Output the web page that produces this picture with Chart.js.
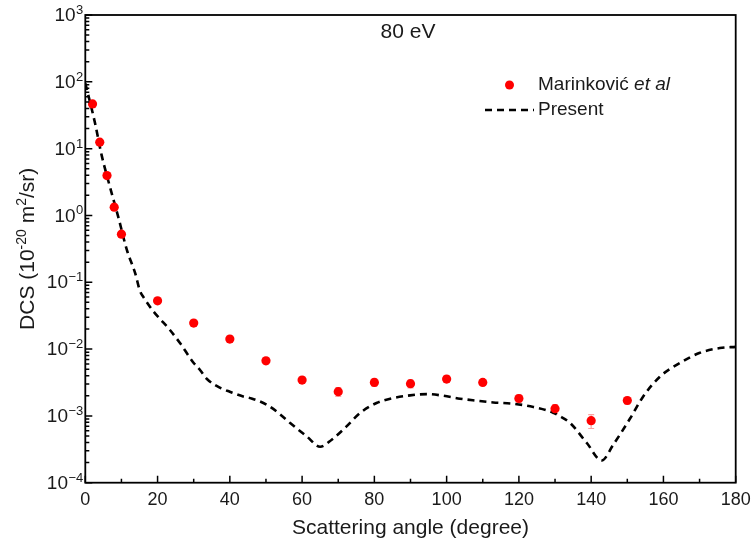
<!DOCTYPE html>
<html>
<head>
<meta charset="utf-8">
<script src="https://cdn.jsdelivr.net/npm/chart.js@4"></script>
<style>
  html, body { margin: 0; padding: 0; background: #ffffff; }
  #wrap { width: 752px; height: 547px; }
</style>
</head>
<body>
<div id="wrap"><canvas id="c" width="752" height="547"></canvas></div>
<script>
// ---- Data ----
const expAngles = [2, 4, 6, 8, 10, 20, 30, 40, 50, 60, 70, 80, 90, 100, 110, 120, 130, 140, 150];
const expDCS = [46.7, 12.5, 3.95, 1.33, 0.525, 0.0527, 0.0245, 0.0141, 0.00668, 0.00343, 0.0023, 0.00317, 0.00303, 0.00356, 0.00317, 0.00182, 0.00128, 0.000847, 0.0017];
const expErr = [4.5, 1.2, 0.4, 0.13, 0.05, 0.005, 0.0024, 0.0014, 0.0007, 0.00035, 0.00035, 0.0004, 0.0004, 0.0004, 0.0003, 0.00025, 0.0002, 0.0002, 0.0002];

const theoryAngles = [0, 1, 2.7, 4.5, 6.8, 9.1, 11.5, 13.8, 15.1, 16.1, 18.8, 20.5, 23.2, 26.2, 30, 31.7, 33.6, 37.5, 40, 43.7, 46, 50.2, 53.5, 56.7, 61.3, 65, 68.2, 72.3, 76, 80.6, 85.2, 89.9, 94.5, 99.1, 103.7, 108.3, 112.9, 118.5, 124, 128.6, 131.5, 134.2, 138.8, 142.9, 146.1, 150.8, 154.4, 159.1, 164.6, 170.1, 175.6, 180];
const theoryDCS = [95, 58, 24, 8.06, 2.7, 0.96, 0.305, 0.137, 0.075, 0.060, 0.037, 0.029, 0.020, 0.0123, 0.0062, 0.0049, 0.0036, 0.0026, 0.0023, 0.00195, 0.00182, 0.00147, 0.0011, 0.00078, 0.000493, 0.000345, 0.00044, 0.000697, 0.0011, 0.00156, 0.00185, 0.00203, 0.00212, 0.0020, 0.00181, 0.00169, 0.00159, 0.00152, 0.00136, 0.00117, 0.00098, 0.00078, 0.000393, 0.000215, 0.00037, 0.00092, 0.00195, 0.0039, 0.0062, 0.0088, 0.01035, 0.0108];

const xTicks = [0, 20, 40, 60, 80, 100, 120, 140, 160, 180];
const yExponents = [-4, -3, -2, -1, 0, 1, 2, 3];

const FONT = '"Liberation Sans", Arial, sans-serif';
const TXT = '#1a1a1a';

const axesPlugin = {
  id: 'axesPlugin',
  beforeDatasetsDraw(chart) {
    // error bars
    const ctx = chart.ctx;
    const xs = chart.scales.x, ys = chart.scales.y;
    ctx.save();
    ctx.strokeStyle = 'rgba(250,90,90,0.55)';
    ctx.lineWidth = 1.2;
    for (let i = 0; i < expAngles.length; i++) {
      const px = xs.getPixelForValue(expAngles[i]);
      const pTop = ys.getPixelForValue(expDCS[i] + expErr[i]);
      const pBot = ys.getPixelForValue(Math.max(expDCS[i] - expErr[i], 1e-6));
      ctx.beginPath();
      ctx.moveTo(px, pTop); ctx.lineTo(px, pBot);
      ctx.moveTo(px - 3, pTop); ctx.lineTo(px + 3, pTop);
      ctx.moveTo(px - 3, pBot); ctx.lineTo(px + 3, pBot);
      ctx.stroke();
    }
    ctx.restore();
  },
  afterDraw(chart) {
    const ctx = chart.ctx;
    const a = chart.chartArea;
    const xs = chart.scales.x, ys = chart.scales.y;
    ctx.save();
    // frame
    ctx.strokeStyle = '#000';
    ctx.lineWidth = 1.8;
    ctx.strokeRect(a.left, a.top, a.right - a.left, a.bottom - a.top);
    // x ticks (inward)
    ctx.lineWidth = 1.5;
    ctx.beginPath();
    for (let v = 0; v <= 180; v += 10) {
      const px = xs.getPixelForValue(v);
      const len = (v % 20 === 0) ? 7 : 4;
      ctx.moveTo(px, a.bottom); ctx.lineTo(px, a.bottom - len);
    }
    // y ticks (inward)
    for (let e = -4; e <= 3; e++) {
      const py = ys.getPixelForValue(Math.pow(10, e));
      ctx.moveTo(a.left, py); ctx.lineTo(a.left + 7, py);
      if (e < 3) {
        for (let m = 2; m <= 9; m++) {
          const pm = ys.getPixelForValue(m * Math.pow(10, e));
          ctx.moveTo(a.left, pm); ctx.lineTo(a.left + 4, pm);
        }
      }
    }
    ctx.stroke();

    // x tick labels
    ctx.fillStyle = TXT;
    ctx.font = '18px ' + FONT;
    ctx.textAlign = 'center';
    ctx.textBaseline = 'middle';
    xTicks.forEach(v => {
      ctx.fillText(String(v), xs.getPixelForValue(v), 500);
    });

    // y tick labels 10^n
    yExponents.forEach(e => {
      const py = ys.getPixelForValue(Math.pow(10, e));
      const expStr = e < 0 ? '\u2212' + Math.abs(e) : String(e);
      ctx.font = '13px ' + FONT;
      const ew = ctx.measureText(expStr).width;
      const right = a.left - 2;
      ctx.textAlign = 'left';
      ctx.textBaseline = 'alphabetic';
      ctx.fillText(expStr, right - ew, py - 1);
      ctx.font = '19px ' + FONT;
      ctx.textAlign = 'right';
      ctx.textBaseline = 'middle';
      ctx.fillText('10', right - ew - 0.5, py + 1);
    });

    // x title
    ctx.font = '21px ' + FONT;
    ctx.textAlign = 'center';
    ctx.textBaseline = 'middle';
    ctx.fillText('Scattering angle (degree)', (a.left + a.right) / 2, 528);

    // y title (rotated, with superscripts)
    ctx.save();
    ctx.translate(26, (a.top + a.bottom) / 2);
    ctx.rotate(-Math.PI / 2);
    const parts = [
      ['DCS (10', 21, 0],
      ['-20', 14, -8],
      [' m', 21, 0],
      ['2', 14, -8],
      ['/sr)', 21, 0]
    ];
    let total = 0;
    parts.forEach(p => { ctx.font = p[1] + 'px ' + FONT; total += ctx.measureText(p[0]).width; });
    let xx = -total / 2;
    ctx.textAlign = 'left';
    ctx.textBaseline = 'alphabetic';
    parts.forEach(p => {
      ctx.font = p[1] + 'px ' + FONT;
      ctx.fillText(p[0], xx, 7.5 + p[2]);
      xx += ctx.measureText(p[0]).width;
    });
    ctx.restore();

    // annotation
    ctx.font = '21px ' + FONT;
    ctx.textAlign = 'center';
    ctx.textBaseline = 'middle';
    ctx.fillText('80 eV', 408, 32);

    // legend
    ctx.fillStyle = '#ff0000';
    ctx.beginPath();
    ctx.arc(509.5, 85, 4.5, 0, Math.PI * 2);
    ctx.fill();
    ctx.fillStyle = TXT;
    ctx.textAlign = 'left';
    ctx.font = '19px ' + FONT;
    const t1 = 'Marinkovi\u0107 ';
    ctx.fillText(t1, 538, 85);
    const w1 = ctx.measureText(t1).width;
    ctx.font = 'italic 19px ' + FONT;
    ctx.fillText('et al', 538 + w1, 85);
    ctx.font = '19px ' + FONT;
    ctx.fillText('Present', 538, 110);
    ctx.strokeStyle = '#000';
    ctx.lineWidth = 2.6;
    ctx.setLineDash([7, 5]);
    ctx.beginPath();
    ctx.moveTo(485, 110); ctx.lineTo(534, 110);
    ctx.stroke();
    ctx.setLineDash([]);
    ctx.restore();
  }
};

const ctx = document.getElementById('c').getContext('2d');
new Chart(ctx, {
  type: 'scatter',
  data: {
    datasets: [
      {
        label: 'Present',
        type: 'line',
        data: theoryAngles.map((x, i) => ({ x: x, y: theoryDCS[i] })),
        borderColor: '#000000',
        borderWidth: 2.6,
        borderDash: [7, 5],
        pointRadius: 0,
        fill: false,
        cubicInterpolationMode: 'monotone',
        order: 2
      },
      {
        label: 'Marinković et al',
        data: expAngles.map((x, i) => ({ x: x, y: expDCS[i] })),
        backgroundColor: '#ff0000',
        borderColor: '#ff0000',
        borderWidth: 0,
        pointRadius: 4.6,
        order: 1
      }
    ]
  },
  options: {
    responsive: false,
    animation: false,
    devicePixelRatio: 1,
    layout: { padding: { left: 85.3, right: 16.3, top: 15, bottom: 64.3 } },
    plugins: { legend: { display: false }, tooltip: { enabled: false } },
    scales: {
      x: { type: 'linear', min: 0, max: 180, display: false },
      y: { type: 'logarithmic', min: 1e-4, max: 1e3, display: false }
    }
  },
  plugins: [axesPlugin]
});
</script>
</body>
</html>
